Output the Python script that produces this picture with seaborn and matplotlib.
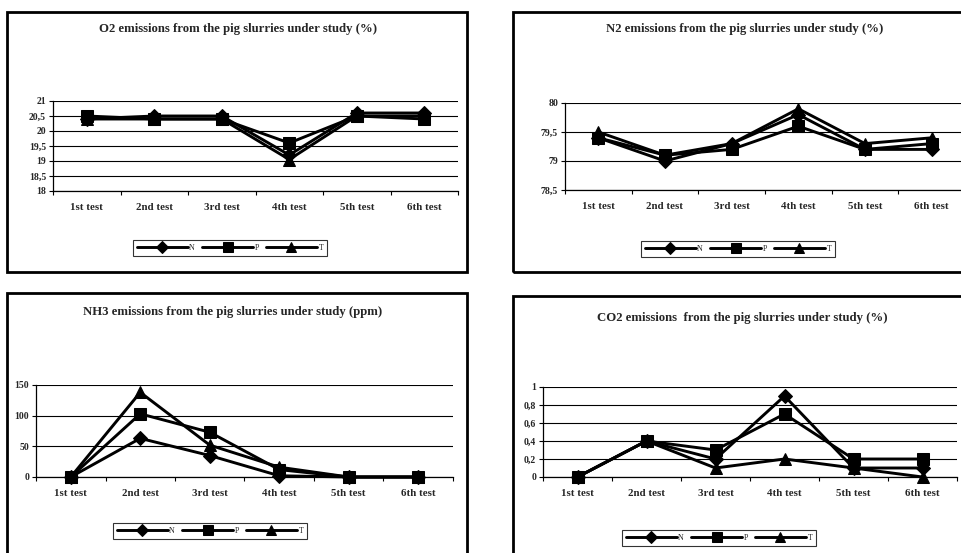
import numpy as np
import pandas as pd
import matplotlib
matplotlib.use("Agg")
import matplotlib.pyplot as plt
from matplotlib.patches import Rectangle
from matplotlib.ticker import FuncFormatter, MultipleLocator
import seaborn as sns

# --- data ---
tests = ["1st test", "2nd test", "3rd test", "4th test", "5th test", "6th test"]

o2_n = [20.4, 20.5, 20.5, 19.2, 20.6, 20.6]
o2_p = [20.5, 20.4, 20.4, 19.6, 20.5, 20.4]
o2_t = [20.4, 20.4, 20.4, 19.05, 20.5, 20.5]

n2_n = [79.4, 79.0, 79.3, 79.8, 79.2, 79.2]
n2_p = [79.4, 79.1, 79.2, 79.6, 79.2, 79.3]
n2_t = [79.5, 79.1, 79.3, 79.9, 79.3, 79.4]

nh3_n = [0, 63, 35, 2, 0, 0]
nh3_p = [0, 103, 73, 12, 0, 0]
nh3_t = [0, 138, 52, 16, 0, 0]

co2_n = [0, 0.4, 0.2, 0.9, 0.1, 0.1]
co2_p = [0, 0.4, 0.3, 0.7, 0.2, 0.2]
co2_t = [0, 0.4, 0.1, 0.2, 0.1, 0.0]

titles = [
    "O2 emissions from the pig slurries under study (%)",
    "N2 emissions from the pig slurries under study (%)",
    "NH3 emissions from the pig slurries under study (ppm)",
    "CO2 emissions  from the pig slurries under study (%)",
]

sns.set_style("white")
plt.rcParams["font.family"] = ["Liberation Serif", "DejaVu Serif"]
plt.rcParams["font.weight"] = "bold"

W, H = 961, 553
fig = plt.figure(figsize=(W / 100, H / 100), dpi=100)


def fx(x):
    return x / W


def fy(y):
    return 1 - y / H


# panel layout in pixels: border box, plot box, title centre, legend centre
panels = [
    dict(data=(o2_n, o2_p, o2_t), ylim=(18, 21), step=0.5,
         box=(7, 12, 467, 272), plot=(53, 101, 458, 191),
         title=(238, 29), leg=(230, 248)),
    dict(data=(n2_n, n2_p, n2_t), ylim=(78.5, 80), step=0.5,
         box=(513, 12, 1010, 272), plot=(565, 103, 965, 190),
         title=(745, 29), leg=(738, 249)),
    dict(data=(nh3_n, nh3_p, nh3_t), ylim=(0, 150), step=50,
         box=(7, 293, 467, 600), plot=(36, 385, 453, 477),
         title=(233, 312), leg=(210, 531)),
    dict(data=(co2_n, co2_p, co2_t), ylim=(0, 1), step=0.2,
         box=(513, 296, 1010, 600), plot=(543, 387, 957, 477),
         title=(742, 318), leg=(719, 538)),
]

names = ["N", "P", "T"]
markers = {"N": "D", "P": "s", "T": "^"}
msizes = {"N": 7, "P": 8, "T": 8.5}
comma = FuncFormatter(lambda v, p: f"{v:g}".replace(".", ","))
xpos = np.arange(len(tests))

for i, pn in enumerate(panels):
    x0, y0, x1, y1 = pn["box"]
    fig.add_artist(Rectangle((fx(x0), fy(y1)), fx(x1 - x0), (y1 - y0) / H,
                             transform=fig.transFigure, fill=False,
                             ec="black", lw=2))
    px0, py0, px1, py1 = pn["plot"]
    ax = fig.add_axes([fx(px0), fy(py1), fx(px1 - px0), (py1 - py0) / H])

    df = pd.DataFrame({"pos": np.tile(xpos, 3),
                       "value": np.concatenate(pn["data"]),
                       "series": np.repeat(names, len(tests))})
    handles = {}
    # P drawn last so it sits on top, as in the original
    for s in ["N", "T", "P"]:
        sns.lineplot(data=df[df["series"] == s], x="pos", y="value", ax=ax,
                     color="black", lw=2.1, marker=markers[s],
                     markersize=msizes[s], markeredgecolor="black",
                     label=s, legend=False, clip_on=False, zorder=3)
        handles[s] = ax.get_lines()[-1]

    ax.set_xlim(-0.5, len(tests) - 0.5)
    ax.set_ylim(*pn["ylim"])
    ax.yaxis.set_major_locator(MultipleLocator(pn["step"]))
    ax.yaxis.set_major_formatter(comma)
    ax.set_xticks(np.arange(-0.5, len(tests), 1))
    ax.set_xticklabels([])
    ax.set_xticks(xpos, minor=True)
    ax.set_xticklabels(tests, minor=True)
    ax.tick_params(axis="x", which="major", direction="out", length=3,
                   width=0.8, color="black", bottom=True)
    ax.tick_params(axis="x", which="minor", length=0, pad=8.5, labelsize=7.8)
    ax.tick_params(axis="y", direction="out", length=3, width=0.8,
                   color="black", left=True, pad=2, labelsize=7)
    ax.grid(axis="y", color="black", lw=0.8)
    ax.grid(axis="x", visible=False)
    ax.set_axisbelow(True)
    for side in ["top", "right"]:
        ax.spines[side].set_visible(False)
    for side in ["left", "bottom"]:
        ax.spines[side].set_color("black")
        ax.spines[side].set_linewidth(0.9)
    ax.set_xlabel("")
    ax.set_ylabel("")
    ax.patch.set_alpha(0)

    tx, ty = pn["title"]
    fig.text(fx(tx), fy(ty), titles[i], ha="center", va="center",
             fontsize=9.2, fontweight="bold")

    lx, ly = pn["leg"]
    leg = ax.legend([handles[s] for s in names], names, loc="center",
                    bbox_to_anchor=(fx(lx), fy(ly)),
                    bbox_transform=fig.transFigure, ncol=3, fontsize=5.8,
                    frameon=True, fancybox=False, edgecolor="black",
                    handlelength=6.3, handletextpad=0.2, columnspacing=0.9,
                    borderpad=0.5, markerscale=0.85)
    leg.get_frame().set_linewidth(0.8)
    for t in leg.get_texts():
        t.set_fontweight("normal")

fig.savefig("out.png", dpi=100, facecolor="white")
